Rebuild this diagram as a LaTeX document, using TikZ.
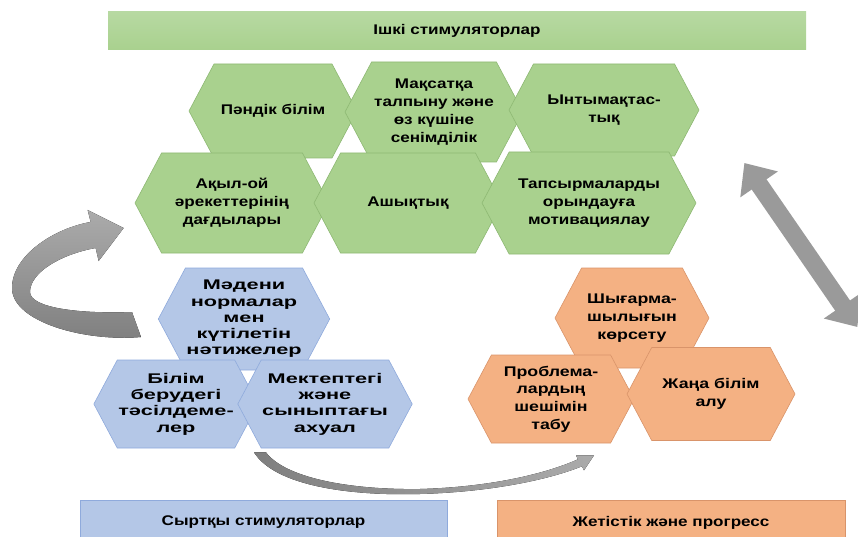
\documentclass[tikz,border=0pt]{standalone}
\usepackage{fontspec}
\setmainfont{Liberation Sans}[FakeStretch=1.22]
\newfontfamily\bluefont{Liberation Sans}[FakeStretch=1.55]
\newfontfamily\orangefont{Liberation Sans}[FakeStretch=1.27]
\usepackage{tikz}
\usetikzlibrary{shapes.symbols,positioning,calc,arrows.meta}
\definecolor{grfill}{HTML}{A9D18E}
\definecolor{gredge}{HTML}{8DB873}
\definecolor{grtop}{HTML}{B7D9A2}
\definecolor{blfill}{HTML}{B4C7E7}
\definecolor{bledge}{HTML}{8FAADC}
\definecolor{orfill}{HTML}{F4B183}
\definecolor{oredge}{HTML}{D9946A}
\definecolor{arrdark}{HTML}{7F7F7F}
\definecolor{arrlight}{HTML}{ABABAB}

\begin{document}
\begin{tikzpicture}[x=1pt,y=-1pt,
	hex/.style={signal, signal to=west and east, signal pointer angle=124, align=center, inner sep=1pt, line width=0.6pt},
	hexg/.style={hex, draw=gredge, fill=grfill, font=\fontsize{14}{18}\selectfont\bfseries},
	hexb/.style={hex, draw=bledge, fill=blfill, font=\bluefont\fontsize{14}{16.3}\selectfont\bfseries},
	hexo/.style={hex, draw=oredge, fill=orfill, font=\orangefont\fontsize{14}{17.7}\selectfont\bfseries},
	bar/.style={draw=none, minimum height=38, font=\fontsize{14}{17}\selectfont\bfseries}]
	\useasboundingbox (0,0) rectangle (858,537);
	\clip (0,0) rectangle (858,537);
	% top bar
	\node[bar, top color=grtop, bottom color=grfill, minimum width=698] (inner) at (457,31) {Ішкі стимуляторлар};
	% green hexagons
	\node[hexg, minimum width=168, minimum height=94] (g1) at (273,111) {Пәндік білім};
	\node[hexg, minimum width=178, minimum height=100] (g2) at ($ (g1) +(161,1) $) {Мақсатқа\\ талпыну және\\ өз күшіне\\ сенімділік};
	\node[hexg, minimum width=190, minimum height=92] (g3) at ($ (g2) +(170,-2) $) {Ынтымақтас-\\ тық};
	\node[hexg, minimum width=194, minimum height=100] (g4) at (232,203) {Ақыл-ой\\ әрекеттерінің\\ дағдылары};
	\node[hexg, minimum width=188, minimum height=100] (g5) at ($ (g4) +(176,0) $) {Ашықтық};
	\node[hexg, minimum width=214, minimum height=102] (g6) at ($ (g5) +(181,0) $) {Тапсырмаларды\\ орындауға\\ мотивациялау};
	% blue hexagons
	\node[hexb, minimum width=162, minimum height=102] (b1) at (244,319) {Мәдени\\ нормалар\\ мен\\ күтілетін\\ нәтижелер};
	\node[hexb, minimum width=158, minimum height=88] (b2) at ($ (b1) +(-68,85) $) {Білім\\ берудегі\\ тәсілдеме-\\ лер};
	\node[hexb, minimum width=160, minimum height=88] (b3) at ($ (b1) +(81,85) $) {Мектептегі\\ және\\ сыныптағы\\ ахуал};
	% orange hexagons
	\node[hexo, minimum width=154, minimum height=100] (o1) at (632,318) {Шығарма-\\ шылығын\\ көрсету};
	\node[hexo, minimum width=166, minimum height=88] (o2) at ($ (o1) +(-81,81) $) {Проблема-\\ лардың\\ шешімін\\ табу};
	\node[hexo, minimum width=168, minimum height=93] (o3) at ($ (o1) +(79,76) $) {Жаңа білім\\ алу};
	% bottom bars
	\node[bar, fill=blfill, draw=bledge, minimum width=367, minimum height=45] (outer) at (263.5,522.5) {Сыртқы стимуляторлар};
	\node[bar, fill=orfill, draw=oredge, minimum width=348, minimum height=45] (result) at (671,522.5) {Жетістік және прогресс};
	% arrows
	\coordinate (lt) at ($ (b1.west) +(-21,5) $);
	\coordinate (lh) at ($ (g4.west) +(-11,25) $);
	\fill[top color=arrlight, bottom color=arrdark] ($ (lt) +(-5,-12) $) .. controls (80,314) and (30,308) .. (30,292)
		.. controls (30,272) and (62,254) .. ($ (lh) +(-28,20) $) -- ($ (lh) +(-25,33) $) -- (lh) -- ($ (lh) +(-36,-18) $)
		-- ($ (lh) +(-33,-6) $) .. controls (55,228) and (12,255) .. (12,288)
		.. controls (12,322) and (85,342) .. ($ (lt) +(4,13) $) -- cycle;
	\coordinate (ct) at ($ (b3.south) +(-65,4) $);
	\coordinate (ch) at ($ (o2.south) +(43,12) $);
	\fill[left color=arrdark, right color=arrlight] ($ (ct) +(-6,0) $) .. controls (275,486) and (350,496) .. (420,494)
		.. controls (490,492) and (548,480) .. ($ (ch) +(-12,11) $) -- ($ (ch) +(-10,15) $) -- (ch) -- ($ (ch) +(-18,0) $)
		-- ($ (ch) +(-16,4) $) .. controls (545,474) and (490,487) .. (420,489)
		.. controls (350,490) and (285,478) .. ($ (ct) +(6,0) $) -- cycle;
	\coordinate (dt) at ($ (g6.east) +(48,-40) $);
	\coordinate (db) at ($ (o3.east) +(62,-67) $);
	\draw[line width=18pt, color=arrlight!90!black, {Triangle[width=44pt,length=26pt]}-{Triangle[width=44pt,length=26pt]}] (dt) -- (db);
\end{tikzpicture}
\end{document}
